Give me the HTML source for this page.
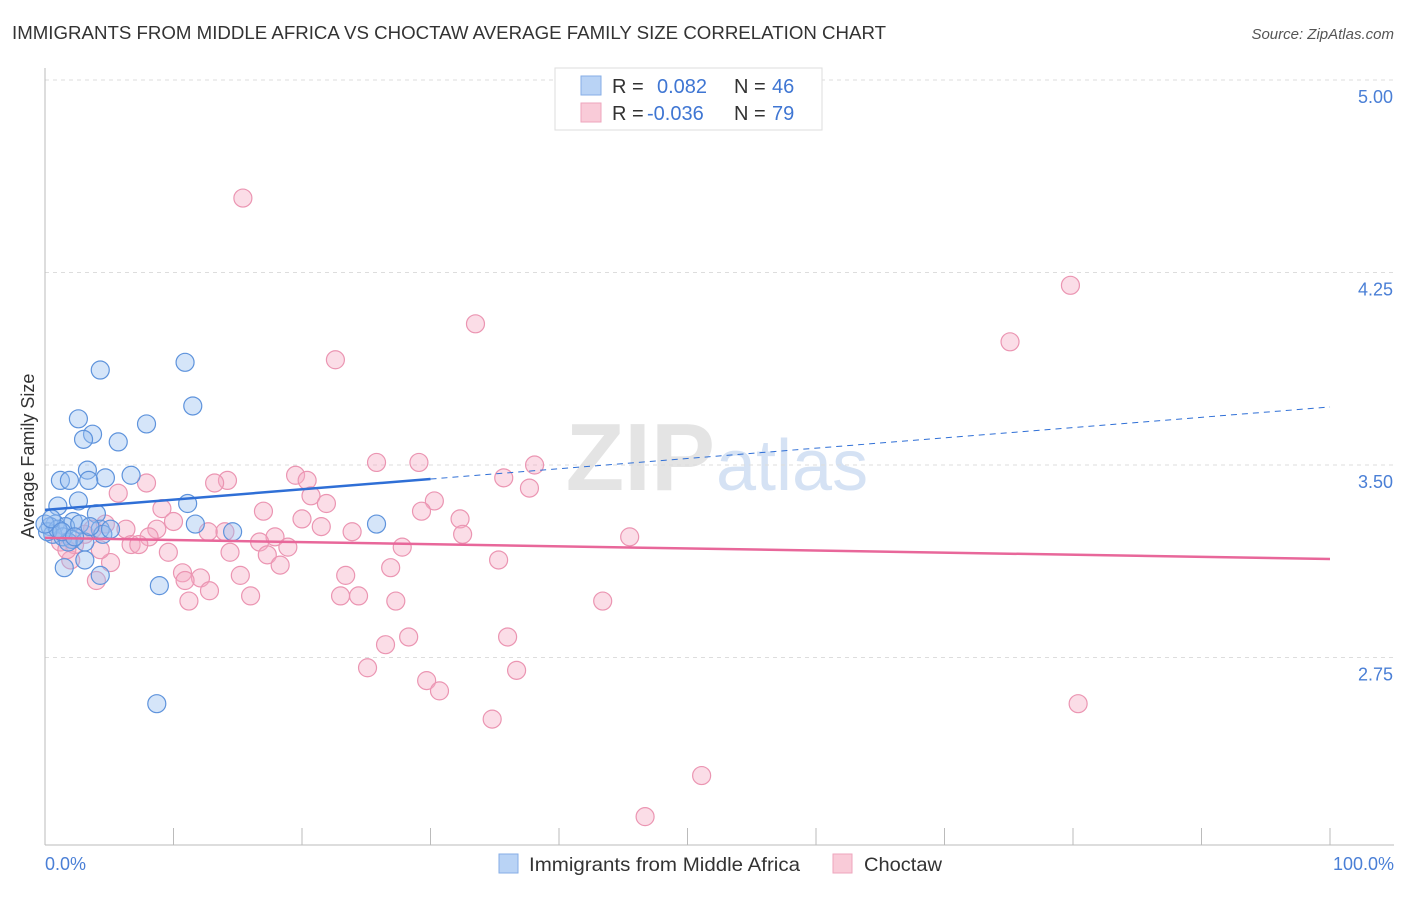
<!DOCTYPE html>
<html><head><meta charset="utf-8"><style>
body{margin:0;background:#fff;font-family:"Liberation Sans",sans-serif}
svg text{font-family:"Liberation Sans",sans-serif}
</style></head><body>
<svg id="c" width="1406" height="892" xmlns="http://www.w3.org/2000/svg">
<text x="12" y="39" font-size="18.5" fill="#333" textLength="874" lengthAdjust="spacingAndGlyphs">IMMIGRANTS FROM MIDDLE AFRICA VS CHOCTAW AVERAGE FAMILY SIZE CORRELATION CHART</text>
<text x="1394" y="39" font-size="15" fill="#555" font-style="italic" text-anchor="end">Source: ZipAtlas.com</text>
<text x="715" y="490" font-size="96" fill="#e4e4e4" text-anchor="end" font-family="Liberation Serif" font-weight="bold">ZIP</text>
<text x="716" y="490" font-size="72" fill="#d5e2f4">atlas</text>
<g id="grid"></g>
<g id="pts"></g>
<g id="lines"></g>
<text transform="translate(34,456) rotate(-90)" font-size="18" fill="#333" text-anchor="middle">Average Family Size</text>
<text x="45" y="870" font-size="18" fill="#4a7fd6">0.0%</text>
<text x="1394" y="870" font-size="18" fill="#4a7fd6" text-anchor="end">100.0%</text>
<g>
<rect x="555" y="68" width="267" height="62" fill="#fff" stroke="#ddd"/>
<rect x="581" y="76" width="20" height="19" fill="#b9d3f5" stroke="#86aee6"/>
<rect x="581" y="103" width="20" height="19" fill="#f9cbd8" stroke="#eea6bd"/>
<text x="612" y="93" font-size="20" fill="#333">R =</text>
<text x="657" y="93" font-size="20" fill="#3f76d3">0.082</text>
<text x="734" y="93" font-size="20" fill="#333">N =</text>
<text x="772" y="93" font-size="20" fill="#3f76d3">46</text>
<text x="612" y="120" font-size="20" fill="#333">R =</text>
<text x="647" y="120" font-size="20" fill="#3f76d3">-0.036</text>
<text x="734" y="120" font-size="20" fill="#333">N =</text>
<text x="772" y="120" font-size="20" fill="#3f76d3">79</text>
</g>
<g>
<rect x="499" y="854" width="19" height="19" fill="#b9d3f5" stroke="#86aee6"/>
<text x="529" y="871" font-size="19.5" fill="#333" textLength="271" lengthAdjust="spacingAndGlyphs">Immigrants from Middle Africa</text>
<rect x="833" y="854" width="19" height="19" fill="#f9cbd8" stroke="#eea6bd"/>
<text x="864" y="871" font-size="19.5" fill="#333" textLength="78" lengthAdjust="spacingAndGlyphs">Choctaw</text>
</g>
</svg>
<script>
const yTicks=[5.00,4.25,3.50,2.75];
const yTickLabels=["5.00","4.25","3.50","2.75"];
const xTicks=[0,10,20,30,40,50,60,70,80,90,100];
const blueX=[10.9,4.3,11.5,2.6,7.9,3.7,3.0,5.7,3.3,6.7,1.2,1.9,4.7,3.4,2.6,11.1,1.0,4.0,2.2,0.8,1.6,2.7,0.4,4.3,11.7,14.6,25.8,4.5,0.6,1.4,2.1,3.1,1.8,0.2,1.0,3.1,1.5,4.3,8.9,8.7,0,0.5,3.5,1.3,2.3,5.1];
const blueY=[3.90,3.87,3.73,3.68,3.66,3.62,3.60,3.59,3.48,3.46,3.44,3.44,3.45,3.44,3.36,3.35,3.34,3.31,3.28,3.27,3.26,3.27,3.26,3.25,3.27,3.24,3.27,3.23,3.23,3.22,3.21,3.20,3.20,3.24,3.25,3.13,3.10,3.07,3.03,2.57,3.27,3.29,3.26,3.24,3.22,3.25];
const pinkX=[15.4,79.8,33.5,75.1,22.6,25.8,29.1,38.1,19.5,35.7,14.2,13.2,20.4,7.9,5.7,37.7,20.7,30.3,21.9,29.3,17.0,9.1,32.3,20.0,21.5,10.0,6.3,4.7,3.7,14.0,32.5,23.9,12.7,8.7,45.5,17.9,16.7,8.1,6.7,7.3,18.9,27.8,14.4,9.6,1.2,17.3,2.0,5.1,35.3,18.3,26.9,10.7,23.4,15.2,12.1,10.9,4.0,12.8,16.0,24.4,23.0,11.2,27.3,43.4,28.3,36.0,26.5,25.1,36.7,29.7,30.7,34.8,80.4,51.1,46.7,2.3,3.1,1.7,4.3];
const pinkY=[4.54,4.20,4.05,3.98,3.91,3.51,3.51,3.50,3.46,3.45,3.44,3.43,3.44,3.43,3.39,3.41,3.38,3.36,3.35,3.32,3.32,3.33,3.29,3.29,3.26,3.28,3.25,3.27,3.25,3.24,3.23,3.24,3.24,3.25,3.22,3.22,3.20,3.22,3.19,3.19,3.18,3.18,3.16,3.16,3.20,3.15,3.13,3.12,3.13,3.11,3.10,3.08,3.07,3.07,3.06,3.05,3.05,3.01,2.99,2.99,2.99,2.97,2.97,2.97,2.83,2.83,2.80,2.71,2.70,2.66,2.62,2.51,2.57,2.29,2.13,3.19,3.23,3.17,3.17];
const blueTrend=[3.325,3.726];
const blueSolidEnd=30;
const pinkTrend=[3.216,3.134];

const NS="http://www.w3.org/2000/svg";
const sx=v=>45+v*12.85;
const sy=v=>80+(5-v)*256.67;
function mk(tag,attrs,parent){const e=document.createElementNS(NS,tag);for(const k in attrs)e.setAttribute(k,attrs[k]);parent.appendChild(e);return e;}
const grid=document.getElementById('grid');
yTicks.forEach((t,i)=>{
  const l=mk('line',{x1:45,x2:1394,y1:sy(t),y2:sy(t),stroke:'#ddd','stroke-dasharray':'4,4'},grid);
  
  
  const tx=mk('text',{x:1393,y:sy(t)+23,'font-size':18,fill:'#4a7fd6','text-anchor':'end'},grid);
  tx.textContent=yTickLabels[i];
  
  
});
const ax=mk('line',{x1:45,x2:45,y1:68,y2:845,stroke:'#bbb'},grid);


const bx=mk('line',{x1:45,x2:1394,y1:845,y2:845,stroke:'#bbb'},grid);


xTicks.forEach(t=>{
  const l=mk('line',{x1:sx(t),x2:sx(t),y1:828,y2:845,stroke:'#bbb'},grid);
  
  
});
const pts=document.getElementById('pts');
pinkX.forEach((x,i)=>{
  const c=mk('circle',{cx:sx(x),cy:sy(pinkY[i]),r:9,fill:'rgba(244,170,195,0.4)',stroke:'#eb95b2','stroke-width':1.2},pts);
  
  
});
blueX.forEach((x,i)=>{
  const c=mk('circle',{cx:sx(x),cy:sy(blueY[i]),r:9,fill:'rgba(150,190,240,0.4)',stroke:'#5e93dc','stroke-width':1.2},pts);
  
  
});
const lines=document.getElementById('lines');
const bAt=x=>blueTrend[0]+(blueTrend[1]-blueTrend[0])*x/100;
const b1=mk('line',{x1:sx(0),y1:sy(bAt(0)),x2:sx(blueSolidEnd),y2:sy(bAt(blueSolidEnd)),stroke:'#2f6fd6','stroke-width':2.5},lines);


const b2=mk('line',{x1:sx(blueSolidEnd),y1:sy(bAt(blueSolidEnd)),x2:sx(100),y2:sy(bAt(100)),stroke:'#2f6fd6','stroke-width':1,'stroke-dasharray':'6,5'},lines);


const p1=mk('line',{x1:sx(0),y1:sy(pinkTrend[0]),x2:sx(100),y2:sy(pinkTrend[1]),stroke:'#e8679a','stroke-width':2.5},lines);


</script>
</body></html>
